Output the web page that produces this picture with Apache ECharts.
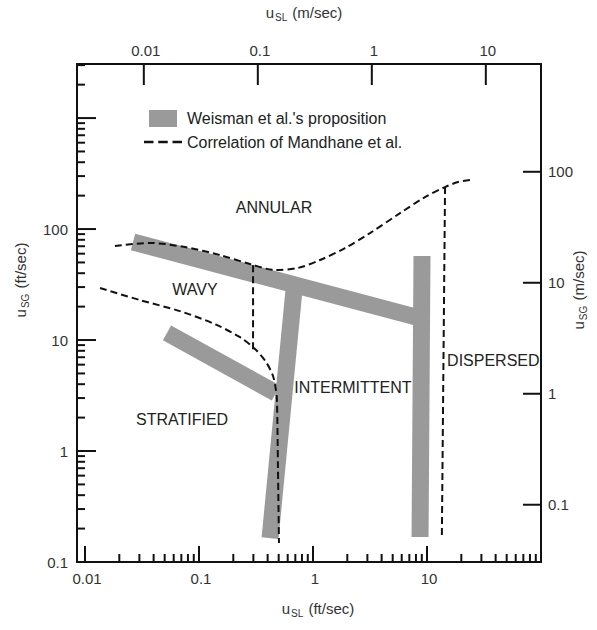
<!DOCTYPE html>
<html>
<head>
<meta charset="utf-8">
<script src="https://cdn.jsdelivr.net/npm/echarts@6/dist/echarts.min.js"></script>
<style>html,body{margin:0;padding:0;background:#fff}#c{width:597px;height:630px}</style>
</head>
<body>
<div id="c"></div>
<script>
const FONT = '"Liberation Sans", Arial, Helvetica, sans-serif';
const X_MIN = 0.00851, X_MAX = 100;      // u_SL ft/sec
const Y_MIN = 0.1, Y_MAX = 3070;         // u_SG ft/sec
const M_PER_FT = 0.3048;

// ---- tick definitions ----
const bottomMajor = [0.01, 0.1, 1, 10, 100];
const bottomLabels = ['0.01', '0.1', '1', '10', ''];
const leftMajor = [0.1, 1, 10, 100, 1000];
const leftLabels = ['0.1', '1', '10', '100', ''];
const minorSteps = [2, 3, 4, 5, 6, 7, 8, 9];
const topMajor = [0.01, 0.1, 1, 10];      // m/sec
const topLabels = ['0.01', '0.1', '1', '10'];
const rightMajor = [0.1, 1, 10, 100];     // m/sec
const rightLabels = ['0.1', '1', '10', '100'];

// ---- Weisman et al.'s proposition (ft/sec) ----
const bandUpper  = [[0.0264, 76.4], [9.04, 15.6]];
const bandRight  = [[9.04, 57.2], [8.69, 0.168]];
const bandMiddle = [[0.688, 31.3], [0.420, 0.164]];
const bandLower  = [[0.0524, 11.6], [0.473, 3.33]];

// ---- Correlation of Mandhane et al. (ft/sec) ----
const mandhaneTop = [[0.0183, 70.3], [0.0372, 74.9], [0.0754, 68.8], [0.153, 58.3], [0.280, 48.4], [0.464, 42.8],
  [0.738, 44.6], [1.152, 52.6], [1.91, 67.4], [3.16, 92.0], [5.80, 139], [9.60, 194], [14.4, 239], [18.7, 265], [23.8, 276]];
const mandhaneRight = [[14.4, 239], [13.5, 0.168]];
const mandhaneMid = [[0.298, 47.1], [0.298, 7.8]];
const mandhaneLower = [[0.01355, 29.4], [0.0304, 22.9], [0.0681, 18.2], [0.138, 13.9], [0.229, 10.6], [0.310, 8.30],
  [0.387, 6.34], [0.446, 4.74], [0.473, 3.55], [0.483, 2.88], [0.493, 0.675], [0.503, 0.148]];

// ---- region labels ----
const regionNames = ['ANNULAR', 'WAVY', 'STRATIFIED', 'INTERMITTENT', 'DISPERSED'];
const regionPos = [[0.455, 158], [0.0922, 28.8], [0.0710, 1.94], [2.24, 3.70], [15.0, 6.6]];
const regionAlign = ['center', 'center', 'center', 'center', 'left'];

const W_NAME = "Weisman et al.'s proposition";
const M_NAME = 'Correlation of Mandhane et al.';

function minorList(majors, maxV) {
  const out = [];
  majors.forEach(m => minorSteps.forEach(s => { const v = m * s; if (v < maxV) out.push(v); }));
  return out;
}

function tickData(majors, majorLen, minors, minorLen) {
  return majors.map(v => [v, majorLen]).concat(minors.map(v => [v, minorLen]));
}

function tickSeries(data, xi, yi, side) {
  return {
    type: 'custom', xAxisIndex: xi, yAxisIndex: yi, silent: true, z: 6, clip: false,
    data: data,
    renderItem(params, api) {
      const v = api.value(0), len = api.value(1);
      let p, x2, y2;
      if (side === 'bottom') { p = api.coord([v, Y_MIN]); x2 = p[0]; y2 = p[1] - len; }
      else if (side === 'top') { p = api.coord([v, Y_MAX]); x2 = p[0]; y2 = p[1] + len; }
      else if (side === 'left') { p = api.coord([X_MIN, v]); x2 = p[0] + len; y2 = p[1]; }
      else { p = api.coord([X_MAX, v]); x2 = p[0] - len; y2 = p[1]; }
      return { type: 'line', shape: { x1: p[0], y1: p[1], x2: x2, y2: y2 },
        style: { stroke: '#111', lineWidth: 2 } };
    }
  };
}

function labelSeries(values, labels, xi, yi, side) {
  return {
    type: 'custom', xAxisIndex: xi, yAxisIndex: yi, silent: true, z: 6, clip: false,
    data: values.map(v => [v, 1]),
    renderItem(params, api) {
      const v = api.value(0);
      const txt = labels[params.dataIndex];
      let p, x, y, align, va;
      if (side === 'bottom') { p = api.coord([v, Y_MIN]); x = p[0] + 2; y = p[1] + 16; align = 'center'; va = 'middle'; }
      else if (side === 'top') { p = api.coord([v, Y_MAX]); x = p[0] + 2; y = p[1] - 14; align = 'center'; va = 'middle'; }
      else if (side === 'left') { p = api.coord([X_MIN, v]); x = p[0] - 9; y = p[1]; align = 'right'; va = 'middle'; }
      else { p = api.coord([X_MAX, v]); x = p[0] + 7; y = p[1]; align = 'left'; va = 'middle'; }
      return { type: 'text', x: x, y: y,
        style: { text: txt, fill: '#333', fontSize: 15, fontFamily: FONT, align: align, verticalAlign: va } };
    }
  };
}

function band(data) {
  return { name: W_NAME, type: 'line', data: data, symbol: 'none', showSymbol: false, silent: true, z: 2,
    lineStyle: { color: '#9a9a9a', width: 17, cap: 'butt' }, itemStyle: { color: '#9a9a9a' },
    emphasis: { disabled: true }, animation: false };
}
function dashed(data, smooth) {
  return { name: M_NAME, type: 'line', data: data, symbol: 'none', showSymbol: false, silent: true, z: 4,
    smooth: smooth ? 0.3 : false,
    lineStyle: { color: '#111', width: 2, type: [7, 4] }, itemStyle: { color: '#111' },
    emphasis: { disabled: true }, animation: false };
}

const axisLineStyle = { show: true, onZero: false, lineStyle: { color: '#111', width: 2 } };
function logAxis(min, max, pos) {
  return { type: 'log', logBase: 10, min: min, max: max, position: pos,
    axisLine: axisLineStyle, axisTick: { show: false }, axisLabel: { show: false },
    splitLine: { show: false }, minorTick: { show: false }, minorSplitLine: { show: false } };
}

const rich = {
  u: { fontSize: 15, fontFamily: FONT, fill: '#333', padding: [0, 0, 10, 0] },
  s: { fontSize: 10, fontFamily: FONT, fill: '#333', padding: [0, 1, 0, 1] }
};
function title(text, x, y, rot) {
  return { type: 'text', x: x, y: y, rotation: rot || 0, silent: true,
    style: { text: text, rich: rich, align: 'center', verticalAlign: 'middle', fill: '#333', fontSize: 15, fontFamily: FONT } };
}

const chart = echarts.init(document.getElementById('c'), null, { renderer: 'svg' });
chart.setOption({
  animation: false,
  backgroundColor: '#fff',
  grid: { left: 77, right: 56, top: 64, bottom: 68, containLabel: false },
  xAxis: [logAxis(X_MIN, X_MAX, 'bottom'), logAxis(X_MIN * M_PER_FT, X_MAX * M_PER_FT, 'top')],
  yAxis: [logAxis(Y_MIN, Y_MAX, 'left'), logAxis(Y_MIN * M_PER_FT, Y_MAX * M_PER_FT, 'right')],
  legend: {
    orient: 'vertical', left: 139, top: 105, itemWidth: 38, itemHeight: 17, itemGap: 7,
    selectedMode: false,
    textStyle: { fontSize: 16, color: '#222', fontFamily: FONT },
    data: [
      { name: W_NAME, icon: 'path://M0,0h28v17h-28z', itemStyle: { color: '#9a9a9a', borderWidth: 0 } },
      { name: M_NAME, icon: 'path://M0,0h8v2h-8z M12,0h8v2h-8z M24,0h8v2h-8z', itemStyle: { color: '#111', borderWidth: 0 } }
    ]
  },
  graphic: [
    title('{u|u}{s|SL}{u| (ft/sec)}', 318, 613, 0),
    title('{u|u}{s|SL}{u| (m/sec)}', 304, 17, 0),
    title('{u|u}{s|SG}{u| (ft/sec)}', 25, 280, Math.PI / 2),
    title('{u|u}{s|SG}{u| (m/sec)}', 583, 290, Math.PI / 2)
  ],
  series: [
    band(bandUpper), band(bandRight), band(bandMiddle), band(bandLower),
    dashed(mandhaneTop, true), dashed(mandhaneRight, false), dashed(mandhaneMid, false), dashed(mandhaneLower, true),
    tickSeries(tickData(bottomMajor, 16, minorList(bottomMajor, X_MAX), 8), 0, 0, 'bottom'),
    tickSeries(tickData(leftMajor, 19, minorList(leftMajor, Y_MAX * 0.99), 8), 0, 0, 'left'),
    tickSeries(tickData(topMajor, 21, [], 0), 1, 0, 'top'),
    tickSeries(tickData(rightMajor, 18, [], 0), 0, 1, 'right'),
    labelSeries(bottomMajor, bottomLabels, 0, 0, 'bottom'),
    labelSeries(leftMajor, leftLabels, 0, 0, 'left'),
    labelSeries(topMajor, topLabels, 1, 0, 'top'),
    labelSeries(rightMajor, rightLabels, 0, 1, 'right'),
    {
      type: 'custom', xAxisIndex: 0, yAxisIndex: 0, silent: true, z: 7, clip: false,
      data: regionPos,
      renderItem(params, api) {
        const p = api.coord([api.value(0), api.value(1)]);
        return { type: 'text', x: p[0], y: p[1],
          style: { text: regionNames[params.dataIndex], fill: '#222', fontSize: 16, fontFamily: FONT,
            align: regionAlign[params.dataIndex], verticalAlign: 'middle' } };
      }
    }
  ]
});
</script>
</body>
</html>
